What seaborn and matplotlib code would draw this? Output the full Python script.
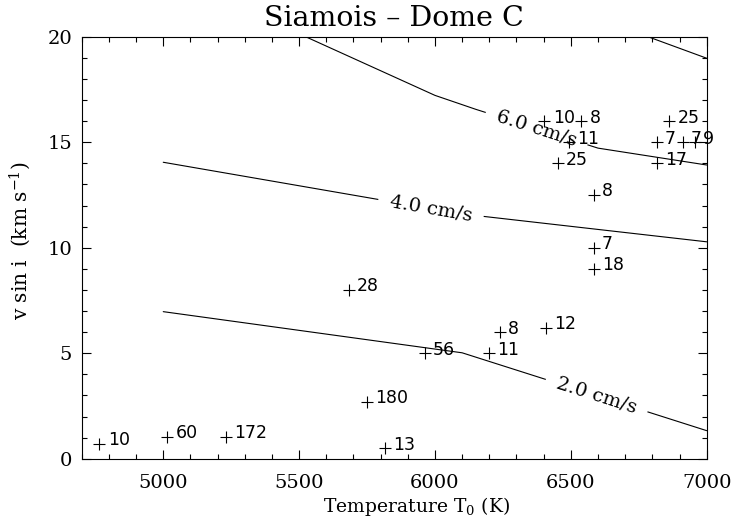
import numpy as np
import pandas as pd
import seaborn as sns
import matplotlib.pyplot as plt
from matplotlib.ticker import MultipleLocator

# stars: effective temperature, v sin i and label
temperature = [4765, 5014, 5230, 5683, 5750, 5815, 5962, 6198, 6238, 6407,
               6584, 6584, 6584, 6452, 6492, 6403, 6538, 6862, 6816, 6911, 6957, 6816]
vsini = [0.7, 1.05, 1.05, 8.0, 2.7, 0.5, 5.0, 5.0, 6.0, 6.2,
         9.0, 10.0, 12.5, 14.0, 15.0, 16.0, 16.0, 16.0, 15.0, 15.0, 15.0, 14.0]
star_labels = ["10", "60", "172", "28", "180", "13", "56", "11", "8", "12",
               "18", "7", "8", "25", "11", "10", "8", "25", "7", "7", "9", "17"]

# iso-amplitude curves (cm/s)
iso_levels = ["2.0", "4.0", "6.0", "8.0"]
iso_temp = [[5000, 6100, 7000], [5000, 6100, 7000],
            [5500, 6000, 6150, 6600, 7000], [6750, 7000]]
iso_vsini = [[6.97, 5.02, 1.33], [14.05, 11.6, 10.28],
             [20.14, 17.22, 16.56, 14.72, 13.92], [20.16, 18.98]]
# label position along the first three curves
label_temp = [6595, 5985, 6374]

sns.set_theme(style="ticks")
plt.rcParams['font.family'] = ['DejaVu Serif']
plt.rcParams['mathtext.fontset'] = 'dejavuserif'
plt.rcParams.update({"text.color": "black", "axes.labelcolor": "black",
                     "xtick.color": "black", "ytick.color": "black"})

fig = plt.figure(figsize=(7.33, 5.23), dpi=100)
ax = fig.add_axes([0.1115, 0.1229, 0.8526, 0.8069])
ax.set_xlim(4700, 7000)
ax.set_ylim(0, 20)

stars = pd.DataFrame({"T": temperature, "vsini": vsini, "label": star_labels})
sns.scatterplot(data=stars, x="T", y="vsini", marker="+", s=64, color="black",
                linewidth=0.8, ax=ax, zorder=3, legend=False)
for _, row in stars.iterrows():
    ax.annotate(row["label"], (row["T"], row["vsini"]), xytext=(6, -1),
                textcoords="offset points", ha="left", va="baseline",
                fontsize=12.5, family="DejaVu Sans", zorder=4)

for i, lvl in enumerate(iso_levels):
    ax.plot(iso_temp[i], iso_vsini[i], color="black", lw=0.8, zorder=2)
    if i < len(label_temp):
        t = label_temp[i]
        v = np.interp(t, iso_temp[i], iso_vsini[i])
        p1 = ax.transData.transform((t - 60, np.interp(t - 60, iso_temp[i], iso_vsini[i])))
        p2 = ax.transData.transform((t + 60, np.interp(t + 60, iso_temp[i], iso_vsini[i])))
        angle = np.degrees(np.arctan2(p2[1] - p1[1], p2[0] - p1[0]))
        ax.text(t, v, f"{lvl} cm/s", rotation=angle, rotation_mode="anchor",
                ha="center", va="center", fontsize=14, zorder=2.5,
                bbox=dict(fc="white", ec="none", boxstyle="square,pad=0.6"))

ax.xaxis.set_major_locator(MultipleLocator(500))
ax.xaxis.set_minor_locator(MultipleLocator(100))
ax.yaxis.set_major_locator(MultipleLocator(5))
ax.yaxis.set_minor_locator(MultipleLocator(1))
ax.tick_params(which="both", direction="in", top=True, right=True,
               width=0.8, color="black")
ax.tick_params(which="major", length=6.3, labelsize=14)
ax.tick_params(axis="x", which="major", pad=11)
ax.tick_params(axis="y", which="major", pad=7)
ax.tick_params(which="minor", length=3.6)
for s in ax.spines.values():
    s.set_linewidth(0.8)
    s.set_color("black")

ax.set_title("Siamois – Dome C", fontsize=20.5, pad=8)
ax.set_xlabel("Temperature T$_0$ (K)", fontsize=13.5)
ax.set_ylabel("v sin i  (km s$^{-1}$)", fontsize=14.5)
ax.xaxis.set_label_coords(0.535, -0.086)
ax.yaxis.set_label_coords(-0.078, 0.516)

fig.savefig("out.png", dpi=100)
